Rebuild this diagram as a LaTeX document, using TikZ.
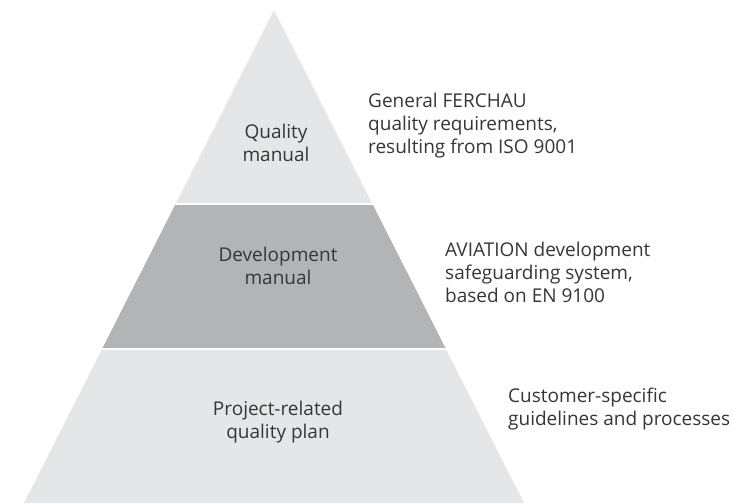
\documentclass[tikz,border=0pt]{standalone}
\usepackage{fontspec}
\setmainfont{Open Sans}
\definecolor{lightband}{HTML}{E5E6E7}
\definecolor{darkband}{HTML}{B3B4B6}
\definecolor{txtgray}{HTML}{363636}
\newcommand{\firstln}{\rule{0pt}{16pt}}
\begin{document}
\begin{tikzpicture}[x=1pt,y=1pt,
  lbl/.style={inner sep=0pt, text=txtgray, font=\fontsize{19}{23.3}\selectfont},
  inlbl/.style={lbl, align=center, anchor=north},
  sidelbl/.style={lbl, align=left, anchor=north west}]
\useasboundingbox (0,0) rectangle (733,503);
% pyramid
\coordinate (apex) at (274,493);
\coordinate (bl) at (24,0);
\coordinate (br) at (524,0);
\fill[lightband] (apex) -- (bl) -- (br) -- cycle;
\fill[darkband] (175.1,298) -- (372.9,298) -- (445.9,154) -- (102.1,154) -- cycle;
\draw[white, line width=2pt] (150,298.5) -- (400,298.5);
\draw[white, line width=2pt] (80,154) -- (470,154);
% labels inside
\node[inlbl] (q) at (276,381) {\firstln Quality\\manual};
\node[inlbl] (d) at (278,258) {\firstln Development\\manual};
\node[inlbl] (p) at (278,104) {\firstln Project-related\\quality plan};
% side labels
\node[sidelbl] (g) at (368,412) {\firstln General FERCHAU\\quality requirements,\\resulting from ISO 9001};
\node[sidelbl] (a) at (445,263) {\firstln AVIATION development\\safeguarding system,\\based on EN 9100};
\node[sidelbl] (c) at (508,117) {\firstln Customer-specific\\guidelines and processes};
\end{tikzpicture}
\end{document}
